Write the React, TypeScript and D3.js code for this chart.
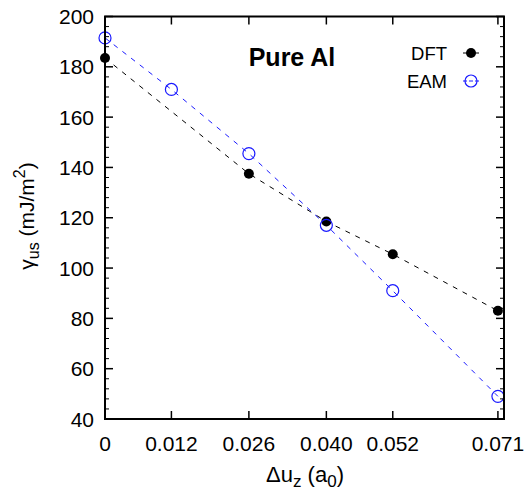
import React from "react";
import * as d3 from "d3";

const xTicks = [0, 0.012, 0.026, 0.04, 0.052, 0.071];
const xTickLabels = ["0", "0.012", "0.026", "0.040", "0.052", "0.071"];
const yTicks = [40, 60, 80, 100, 120, 140, 160, 180, 200];

const dftX = [0, 0.026, 0.04, 0.052, 0.071];
const dftY = [183.5, 137.5, 118.5, 105.5, 83];
const eamX = [0, 0.012, 0.026, 0.04, 0.052, 0.071];
const eamY = [191.5, 171, 145.5, 117, 91, 49];

const W = 527, H = 494;
const L = 105, R = 504, T = 16.5, B = 419;
const BLUE = "#1a1aff";
const FONT = "'Liberation Sans', Arial, Helvetica, sans-serif";

export default function App() {
  const x = d3.scaleLinear().domain([0, 0.0721]).range([L, R]);
  const y = d3.scaleLinear().domain([40, 200]).range([B, T]);
  const minor = d3.range(40, 200.01, 4).filter((v) => v % 20 !== 0);
  const line = d3.line<[number, number]>().x((d) => x(d[0])).y((d) => y(d[1]));
  const dft = dftX.map((v, i) => [v, dftY[i]] as [number, number]);
  const eam = eamX.map((v, i) => [v, eamY[i]] as [number, number]);

  return (
    <svg width={W} height={H} style={{ position: "absolute", left: 0, top: 0, background: "#fff" }} fontFamily={FONT}>
      <rect x={0} y={0} width={W} height={H} fill="#fff" />
      {/* lines */}
      <path d={line(dft) || ""} fill="none" stroke="#000" strokeWidth={1} strokeDasharray="5,6" />
      <path d={line(eam) || ""} fill="none" stroke={BLUE} strokeWidth={1} strokeDasharray="5,6" />
      {dft.map((d, i) => (
        <circle key={"d" + i} cx={x(d[0])} cy={y(d[1])} r={5} fill="#000" />
      ))}
      {eam.map((d, i) => (
        <circle key={"e" + i} cx={x(d[0])} cy={y(d[1])} r={6} fill="none" stroke={BLUE} strokeWidth={1.2} />
      ))}
      {/* ticks */}
      {yTicks.map((t) => (
        <g key={"yt" + t}>
          <line x1={L} x2={L + 8} y1={y(t)} y2={y(t)} stroke="#000" strokeWidth={1.5} />
          <line x1={R} x2={R - 8} y1={y(t)} y2={y(t)} stroke="#000" strokeWidth={1.5} />
          <text x={94} y={y(t)} dy="0.36em" textAnchor="end" fontSize={21}>{t}</text>
        </g>
      ))}
      {minor.map((t) => (
        <g key={"ym" + t}>
          <line x1={L} x2={L + 4} y1={y(t)} y2={y(t)} stroke="#000" strokeWidth={1} />
          <line x1={R} x2={R - 4} y1={y(t)} y2={y(t)} stroke="#000" strokeWidth={1} />
        </g>
      ))}
      {xTicks.map((t, i) => (
        <g key={"xt" + t}>
          <line x1={x(t)} x2={x(t)} y1={B} y2={B - 8} stroke="#000" strokeWidth={1.5} />
          <line x1={x(t)} x2={x(t)} y1={T} y2={T + 8} stroke="#000" strokeWidth={1.5} />
          <text x={x(t)} y={451} textAnchor="middle" fontSize={21}>{xTickLabels[i]}</text>
        </g>
      ))}
      {/* frame */}
      <rect x={L} y={T} width={R - L} height={B - T} fill="none" stroke="#000" strokeWidth={2} />
      {/* title */}
      <text x={292} y={66} textAnchor="middle" fontSize={25} fontWeight="bold">Pure Al</text>
      {/* legend */}
      <text x={447} y={60} textAnchor="end" fontSize={18.5}>DFT</text>
      <line x1={463} x2={479} y1={53} y2={53} stroke="#000" strokeWidth={1} strokeDasharray="4,2" />
      <circle cx={471} cy={53} r={5} fill="#000" />
      <text x={447} y={88} textAnchor="end" fontSize={18.5}>EAM</text>
      <line x1={463} x2={479} y1={81} y2={81} stroke={BLUE} strokeWidth={1} strokeDasharray="4,2" />
      <circle cx={471} cy={81} r={6} fill="none" stroke={BLUE} strokeWidth={1.2} />
      {/* axis titles */}
      <text x={305} y={482} textAnchor="middle" fontSize={22}>
        Δu<tspan fontSize={17} dy={5}>z</tspan><tspan dy={-5}> (a</tspan><tspan fontSize={17} dy={5}>0</tspan><tspan dy={-5}>)</tspan>
      </text>
      <text transform="translate(34,216) rotate(-90)" textAnchor="middle" fontSize={21}>
        γ<tspan fontSize={16} dy={5}>us</tspan><tspan dy={-5}> (mJ/m</tspan><tspan fontSize={16} dy={-9}>2</tspan><tspan dy={9}>)</tspan>
      </text>
    </svg>
  );
}
